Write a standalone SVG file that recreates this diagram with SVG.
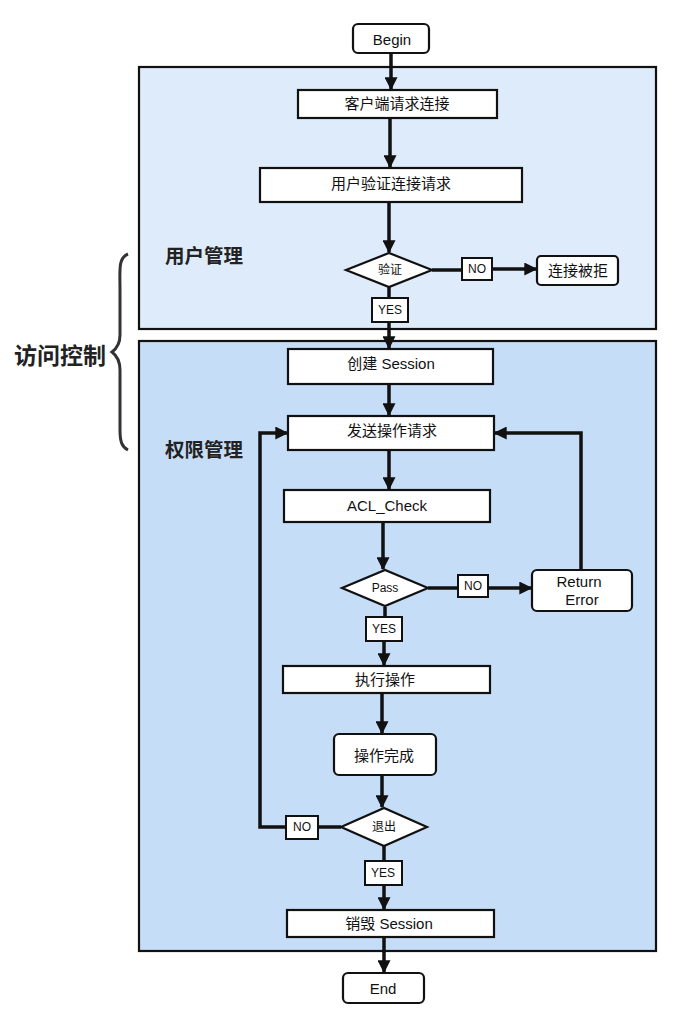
<svg xmlns="http://www.w3.org/2000/svg" width="674" height="1033" viewBox="0 0 674 1033">
<defs>
<style>
.box{fill:#fff;stroke:#111;stroke-width:2.2}
.lbl{fill:#fff;stroke:#111;stroke-width:2}
.t{font-family:"Liberation Sans","Noto Sans CJK SC",sans-serif;font-size:15px;fill:#111;text-anchor:middle;dominant-baseline:central}
.s{font-size:12px}
.h{font-family:"Noto Sans CJK SC","Liberation Sans",sans-serif;font-weight:bold;fill:#222}
.c{fill:none;stroke:#111;stroke-width:3.5;stroke-linejoin:miter}
.ca{marker-end:url(#ah)}
</style>
<marker id="ah" viewBox="0 0 10 10" refX="9" refY="5" markerWidth="13" markerHeight="13" markerUnits="userSpaceOnUse" orient="auto">
<path d="M0,0 L10,5 L0,10 z" fill="#111"/>
</marker>
</defs>
<rect width="674" height="1033" fill="#fff"/>
<g id="grp-user"><rect x="139" y="67" width="517" height="262" fill="#deebfb" stroke="#111" stroke-width="2.2"/>
<text class="h" x="165" y="254" font-size="19.5" dominant-baseline="central">用户管理</text></g>
<g id="grp-perm"><rect x="139" y="341" width="517" height="610" fill="#c6ddf7" stroke="#111" stroke-width="2.2"/>
<text class="h" x="165" y="448" font-size="19.5" dominant-baseline="central">权限管理</text></g>
<g id="brace"><path d="M128,254 C118,258 120,270 120,290 L120,335 C120,345 116,349 112,352 C116,355 120,360 120,370 L120,430 C120,442 122,447 128,450" fill="none" stroke="#333" stroke-width="3"/>
<text class="h" x="14" y="354" font-size="23" dominant-baseline="central">访问控制</text></g>
<g id="connectors">
<path class="c ca" d="M391,53 V89"/>
<path class="c ca" d="M390,118 V167"/>
<path class="c ca" d="M389,202 V252"/>
<path class="c" d="M432,270 H462"/>
<path class="c ca" d="M492,269 H536"/>
<path class="c" d="M389,287 V298"/>
<path class="c ca" d="M389,322 V348"/>
<path class="c ca" d="M389,384 V415"/>
<path class="c ca" d="M389,450 V489"/>
<path class="c ca" d="M383,522 V569"/>
<path class="c" d="M428,588 H458"/>
<path class="c ca" d="M488,588 H531"/>
<path class="c ca" d="M581,570 V433 H495"/>
<path class="c" d="M385,607 V617"/>
<path class="c ca" d="M384,641 V665"/>
<path class="c ca" d="M382,693 V733"/>
<path class="c ca" d="M382,775 V807"/>
<path class="c" d="M341,827 H318"/>
<path class="c ca" d="M286,827 H260 V433 H287"/>
<path class="c" d="M384,846 V861"/>
<path class="c ca" d="M384,885 V909"/>
<path class="c ca" d="M384,937 V972"/>
</g>
<g id="begin"><rect class="box" x="353" y="24" width="76" height="29" rx="5"/><text class="t" x="392" y="39">Begin</text></g>
<g id="n-client"><rect class="box" x="298" y="90" width="199" height="28"/><text class="t" x="397" y="103">客户端请求连接</text></g>
<g id="n-auth"><rect class="box" x="260" y="168" width="262" height="34"/><text class="t" x="391" y="183">用户验证连接请求</text></g>
<g id="d-verify"><path class="box" d="M346,270 L389,253 L432,270 L389,287 z"/><text class="t s" x="390" y="270">验证</text></g>
<g id="l-no1"><rect class="lbl" x="462" y="258" width="30" height="22"/><text class="t s" x="477" y="269">NO</text></g>
<g id="n-reject"><rect class="box" x="537" y="256" width="81" height="29" rx="4"/><text class="t" x="578" y="270">连接被拒</text></g>
<g id="l-yes1"><rect class="lbl" x="372" y="298" width="36" height="24"/><text class="t s" x="390" y="310">YES</text></g>
<g id="n-create"><rect class="box" x="288" y="349" width="205" height="35"/><text class="t" x="391" y="363">创建 Session</text></g>
<g id="n-send"><rect class="box" x="288" y="416" width="206" height="34"/><text class="t" x="392" y="430">发送操作请求</text></g>
<g id="n-acl"><rect class="box" x="284" y="490" width="206" height="32"/><text class="t" x="387" y="505">ACL_Check</text></g>
<g id="d-pass"><path class="box" d="M342,588 L385,570 L428,588 L385,606 z"/><text class="t s" x="385" y="588">Pass</text></g>
<g id="l-no2"><rect class="lbl" x="458" y="575" width="30" height="22"/><text class="t s" x="473" y="586">NO</text></g>
<g id="n-return"><rect class="box" x="532" y="570" width="100" height="41" rx="5"/><text class="t" x="579" y="581">Return</text><text class="t" x="582" y="599">Error</text></g>
<g id="l-yes2"><rect class="lbl" x="366" y="617" width="36" height="24"/><text class="t s" x="384" y="629">YES</text></g>
<g id="n-exec"><rect class="box" x="283" y="666" width="207" height="27"/><text class="t" x="385" y="679">执行操作</text></g>
<g id="n-done"><rect class="box" x="334" y="734" width="102" height="41" rx="5"/><text class="t" x="384" y="755">操作完成</text></g>
<g id="d-exit"><path class="box" d="M341,827 L384,808 L427,827 L384,846 z"/><text class="t s" x="384" y="827">退出</text></g>
<g id="l-no3"><rect class="lbl" x="286" y="816" width="32" height="23"/><text class="t s" x="302" y="827">NO</text></g>
<g id="l-yes3"><rect class="lbl" x="365" y="861" width="37" height="24"/><text class="t s" x="383" y="873">YES</text></g>
<g id="n-destroy"><rect class="box" x="287" y="910" width="207" height="27"/><text class="t" x="389" y="923">销毁 Session</text></g>
<g id="end"><rect class="box" x="343" y="973" width="81" height="30" rx="5"/><text class="t" x="383" y="988">End</text></g>
</svg>
